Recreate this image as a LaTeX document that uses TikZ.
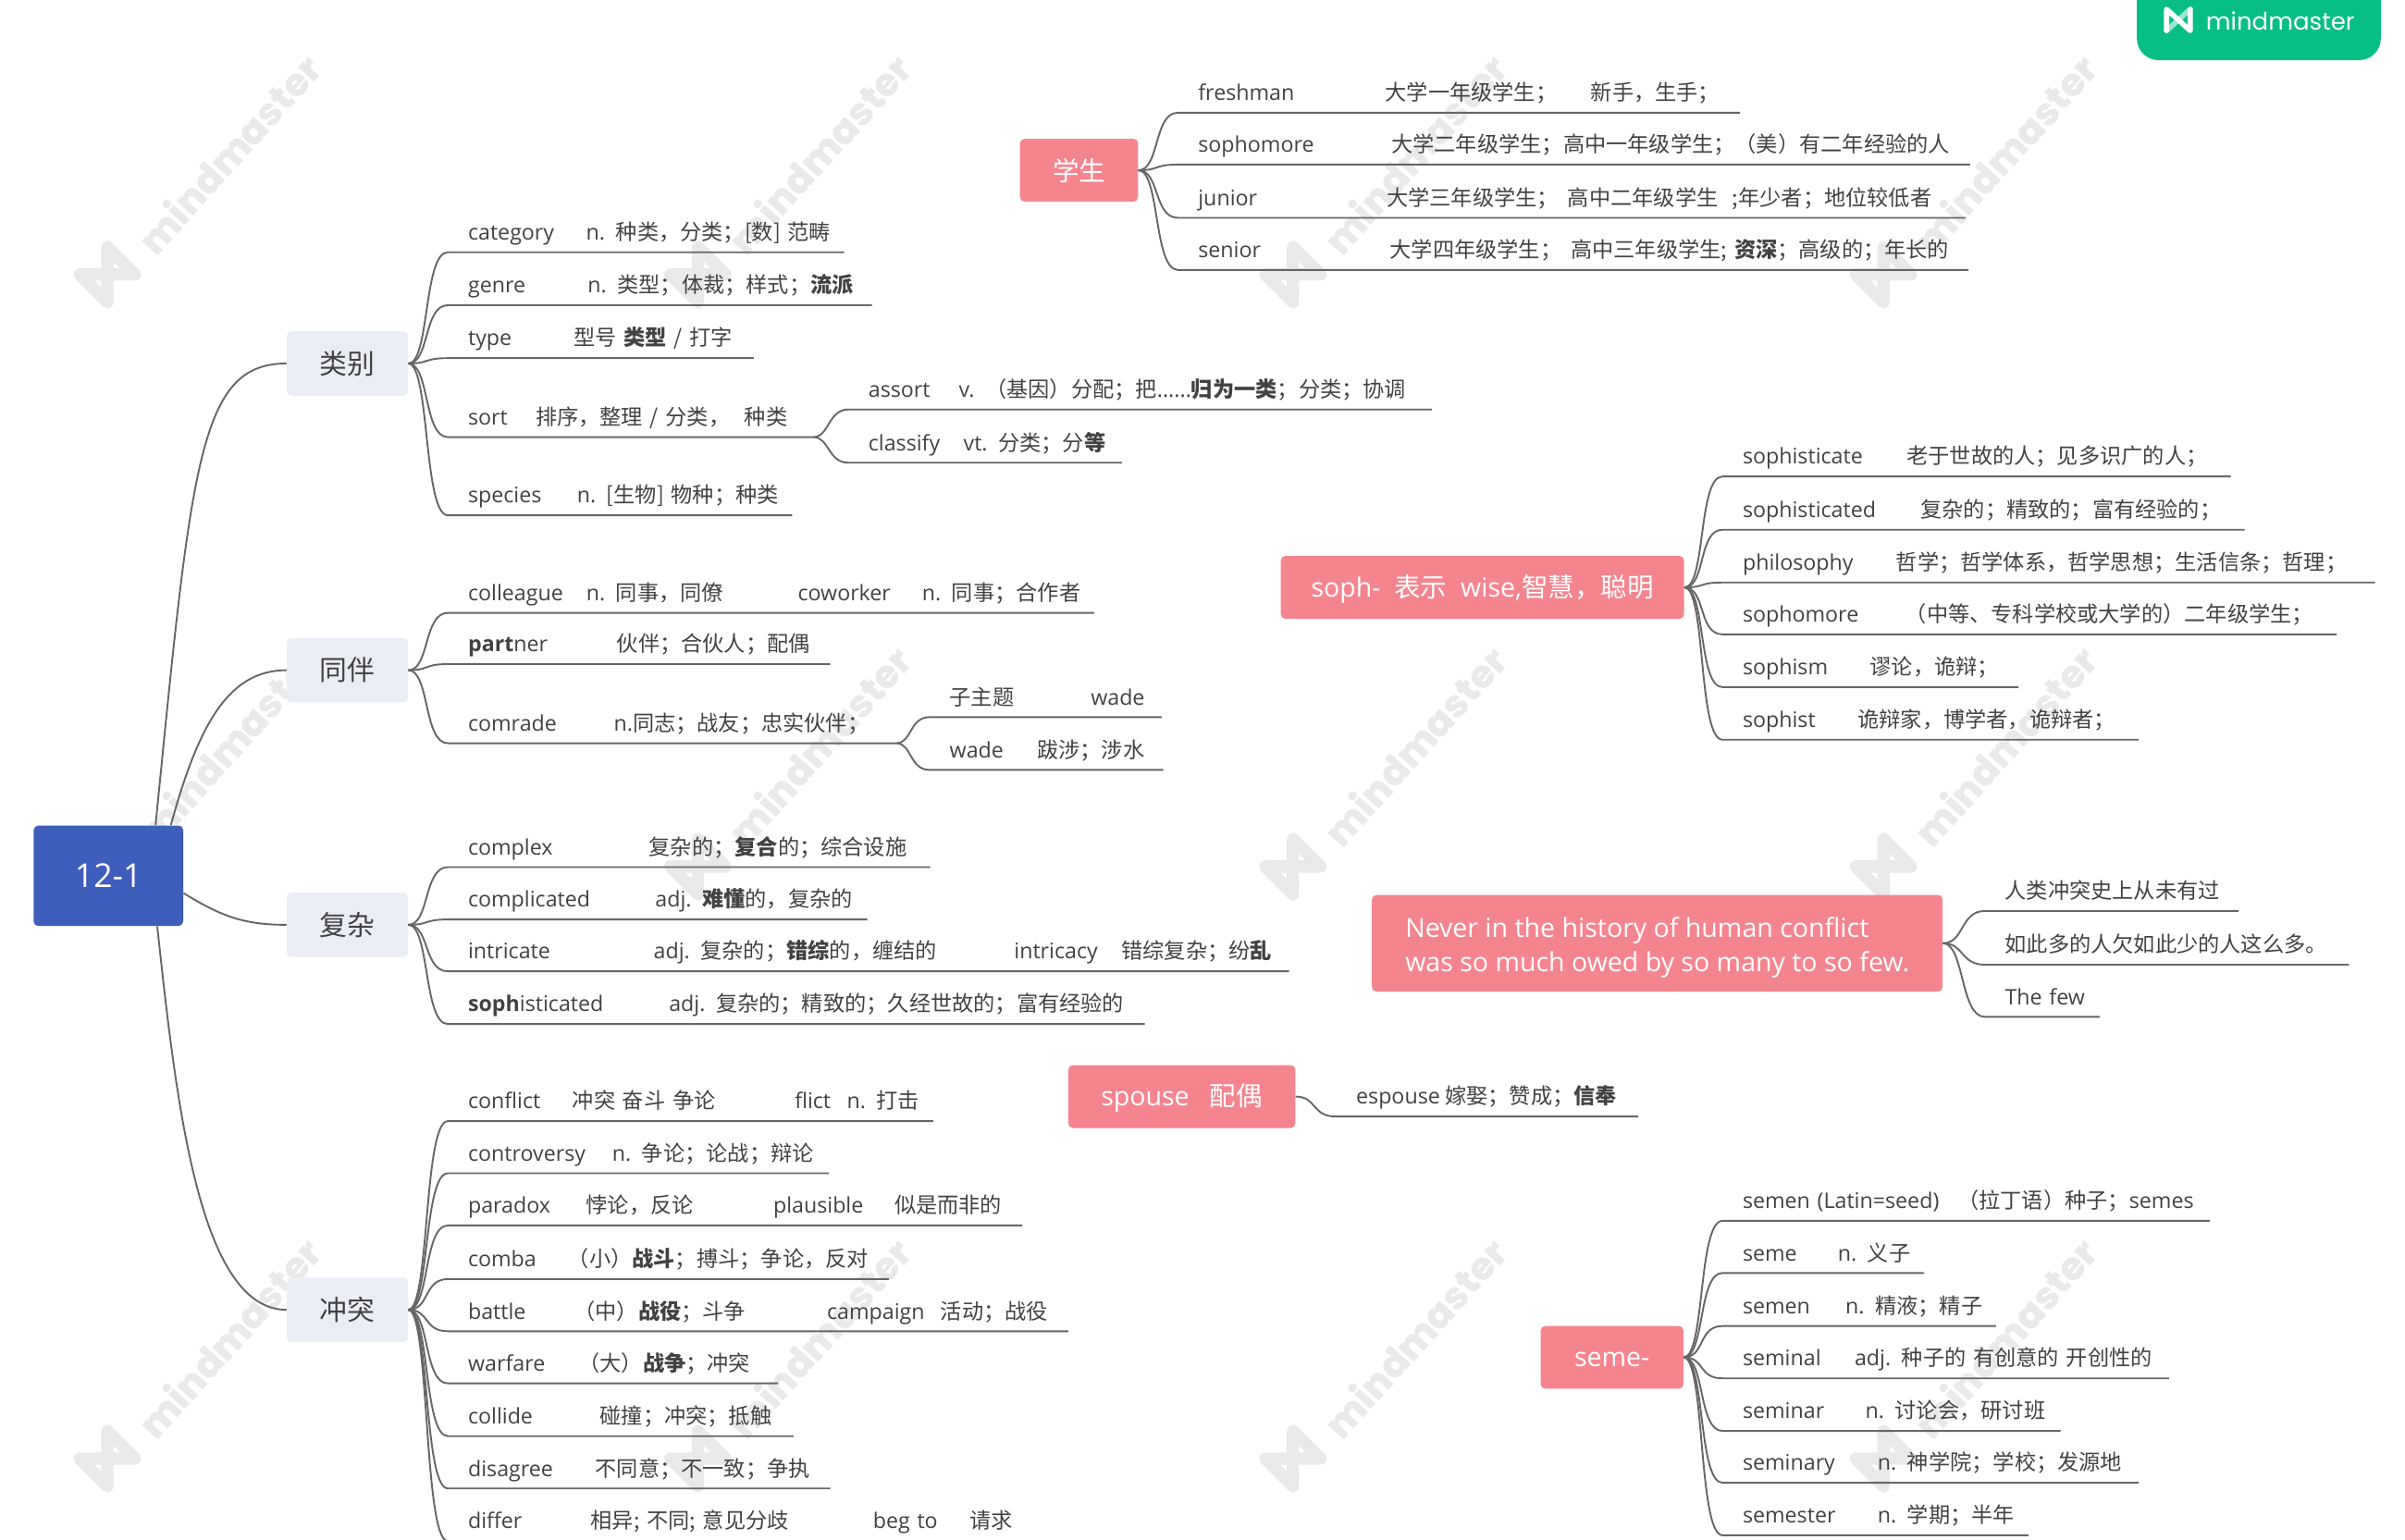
\documentclass[tikz,border=0pt]{standalone}
\usepackage{fontspec}
\setmainfont{Open Sans}
\newfontfamily\cjk[Scale=1.0]{Noto Sans CJK SC}
\newfontfamily\wmfont[BoldFont={Poppins ExtraBold}]{Poppins}
\usetikzlibrary{positioning}

\definecolor{rootblue}{HTML}{3F5DBB}
\definecolor{lbgray}{HTML}{EBEDF5}
\definecolor{topicpink}{HTML}{F4858F}
\definecolor{tagreen}{HTML}{07BF85}
\definecolor{wmgray}{HTML}{E9E9E9}
\definecolor{inkgray}{HTML}{424242}
\definecolor{linegray}{HTML}{666666}

\newcommand{\z}[1]{{\cjk #1}}
\newcommand{\zb}[1]{{\cjk\bfseries #1}}
\newcommand{\col}[2]{\makebox[#1pt][l]{#2}}

\begin{document}
\begin{tikzpicture}
	% Styles
	[
	x=1pt,y=-1pt,
	root/.style={rectangle,fill=rootblue,rounded corners=3pt,inner sep=0pt,text=white,minimum width=97.5pt,minimum height=65.5pt,font=\fontsize{21.5}{26}\selectfont},
	lb/.style={rectangle,fill=lbgray,rounded corners=3pt,inner sep=0pt,text=inkgray,minimum width=79pt,minimum height=42pt,font=\fontsize{18}{22}\selectfont},
	topic/.style={rectangle,fill=topicpink,rounded corners=3pt,inner sep=0pt,text=white,minimum height=41pt,align=left,font=\fontsize{17.2}{22.5}\selectfont},
	latin/.style={text height=13pt,text depth=1pt},
	leaf/.style={anchor=south west,inner sep=0pt,text height=12pt,text depth=7.8pt,text=inkgray,align=left,text width=#1pt,font=\fontsize{14}{16}\selectfont,execute at begin node=\hspace*{13pt}},
	link/.style={draw=linegray,line width=1.15pt,line join=round},
	wm/.style={anchor=base west,rotate=48,inner sep=0pt,text=wmgray,font=\wmfont\bfseries\fontsize{25}{28}\selectfont},
	]

	% Page
	\fill[white] (0,0) rectangle (1568,1004);
	\useasboundingbox (0,0) rectangle (1568,1004);

	% Watermark
	\foreach \wx in {70,455,843,1228}
		\foreach \wy in {179,565,951}
		{
			\draw[wmgray,line width=8pt,line cap=round,line join=round]
				(\wx-18,\wy) -- (\wx+18,\wy) -- (\wx,\wy-18) -- (\wx,\wy+18) -- (\wx-18,\wy);
			\node[wm] (wm-\wx-\wy) at (\wx+32,\wy-11) {mindmaster};
		}

	% Tag
	\node[rectangle,fill=tagreen,rounded corners=14pt,minimum width=159pt,minimum height=59pt,inner sep=0pt,anchor=north west] (tag) at (1393,-20) {};
	\draw[white,opacity=.6,line width=3.4pt,line cap=round] (1412.5,20) -- (1428,6);
	\draw[white,line width=3.4pt,line cap=round,line join=round] (1412.5,20) -- (1412.5,6) -- (1428,20) -- (1428,6);
	\node[anchor=base west,inner sep=0pt,text=white,font=\wmfont\fontsize{15.7}{20}\selectfont] (tagname) at (1438,19.5) {mindmaster};

	% Nodes
	\node at (70.7,571) (root) [root] {12-1};
	\node at (226.5,237) (lei) [lb] {\z{类别}};
	\node at (226.5,437) (ban) [lb] {\z{同伴}};
	\node at (226.5,603) (za) [lb] {\z{复杂}};
	\node at (226.5,854) (chong) [lb] {\z{冲突}};
	\node at (703.5,111) (xue) [topic,minimum width=77pt] {\z{学生}};
	\node at (966.5,383) (soph) [topic,latin,minimum width=263pt] {soph-\ \ \z{表示}\ \ wise,\z{智慧，聪明}};
	\node at (1080.5,615) (never) [topic,minimum width=372pt,minimum height=63pt] {\rule{0pt}{19pt}Never in the history of human conflict\\was so much owed by so many to so few.};
	\node at (770.5,715) (spouse) [topic,latin,minimum width=148pt] {spouse\ \ \ \z{配偶}};
	\node at (1051,885) (seme) [topic,latin,minimum width=93pt] {seme-};

	% Leaves of lei
	\node at (292,164.5) (cat) [leaf=258] {\col{77}{category}n. \z{种类，分类；[数] 范畴}};
	\node at (292,199) (gen) [leaf=276] {\col{78}{genre}n. \z{类型；体裁；样式；}\zb{流派}};
	\node at (292,233.5) (typ) [leaf=199] {\col{69}{type}\z{型号 \zb{类型} / 打字}};
	\node at (292,285) (srt) [leaf=238] {\col{44}{sort}\z{排序，整理 /\ 分类，\ \ 种类}};
	\node at (292,336) (spc) [leaf=224] {\col{71}{species}n. \z{[生物] 物种；种类}};
	\node at (553,267) (ast) [leaf=380] {\col{59}{assort}v. \z{（基因）分配；把}......\zb{归为一类}\z{；分类；协调}};
	\node at (553,301.7) (cls) [leaf=178] {\col{62}{classify}vt. \z{分类；分}\zb{等}};

	% Leaves of ban
	\node at (292,399.6) (col) [leaf=421] {\col{77}{colleague}\col{138}{n. \z{同事，同僚}}\col{81}{coworker}n. \z{同事；合作者}};
	\node at (292,433) (par) [leaf=249] {\col{97}{\textbf{part}ner}\z{伙伴；合伙人；配偶}};
	\node at (292,484.6) (com) [leaf=292] {\col{95}{comrade}n.\z{同志；战友；忠实伙伴；}};
	\node at (606,467.6) (zi) [leaf=151] {\col{92}{\z{子主题}}wade};
	\node at (606,502) (wad) [leaf=152] {\col{57}{wade}\z{跋涉；涉水}};

	% Leaves of za
	\node at (292,565.4) (cpx) [leaf=314] {\col{118}{complex}\z{复杂的；\zb{复合}的；综合设施}};
	\node at (292,599.5) (cpl) [leaf=273] {\col{122}{complicated}adj. \zb{难懂}\z{的，复杂的}};
	\node at (292,633.3) (itr) [leaf=548] {\col{121}{intricate}\col{235}{adj. \z{复杂的；\zb{错综}的，缠结的}}\col{70}{intricacy}\z{错综复杂；纷\zb{乱}}};
	\node at (292,667.7) (sph) [leaf=454] {\col{131}{\textbf{soph}isticated}adj. \z{复杂的；精致的；久经世故的；富有经验的}};

	% Leaves of chong
	\node at (292,731) (cfl) [leaf=316] {\col{68}{conflict}\col{145}{\z{冲突 奋斗 争论}}\col{34}{flict}n. \z{打击}};
	\node at (292,765) (ctr) [leaf=248] {\col{94}{controversy}n. \z{争论；论战；辩论}};
	\node at (292,799) (pdx) [leaf=374] {\col{77}{paradox}\col{122}{\z{悖论，反论}}\col{79}{plausible}\z{似是而非的}};
	\node at (292,834) (cmb) [leaf=287] {\col{65}{comba}\z{（小）\zb{战斗}；搏斗；争论，反对}};
	\node at (292,868) (btl) [leaf=404] {\col{69}{battle}\col{165}{\z{（中）\zb{战役}；斗争}}\col{74}{campaign}\z{活动；战役}};
	\node at (292,902) (war) [leaf=215] {\col{72}{warfare}\z{（大）\zb{战争}；冲突}};
	\node at (292,936.4) (cld) [leaf=225] {\col{86}{collide}\z{碰撞；冲突；抵触}};
	\node at (292,970.5) (dis) [leaf=249] {\col{83}{disagree}\z{不同意；不一致；争执}};
	\node at (292,1004.8) (dif) [leaf=388] {\col{80}{differ}\col{184}{\z{相异; 不同; 意见分歧}}\col{63}{beg to}\z{请求}};

	% Leaves of xue
	\node at (768,73.5) (fre) [leaf=366] {\col{122}{freshman}\col{134}{\z{大学一年级学生；}}\z{新手，生手；}};
	\node at (768,107.3) (sop) [leaf=516] {\col{126}{sophomore}\z{大学二年级学生；高中一年级学生；（美）有二年经验的人}};
	\node at (768,142) (jun) [leaf=513] {\col{123}{junior}\col{118}{\z{大学三年级学生；}}\z{高中二年级学生\ \ ;年少者；地位较低者}};
	\node at (768,176) (sen) [leaf=515] {\col{125}{senior}\col{118}{\z{大学四年级学生；}}\z{高中三年级学生; \zb{资深}；高级的；年长的}};

	% Leaves of soph
	\node at (1123,310.7) (sp1) [leaf=331] {\col{107}{sophisticate}\z{老于世故的人；见多识广的人；}};
	\node at (1123,345.4) (sp2) [leaf=340] {\col{116}{sophisticated}\z{复杂的；精致的；富有经验的；}};
	\node at (1123,379.8) (sp3) [leaf=425] {\col{100}{philosophy}\z{哲学；哲学体系，哲学思想；生活信条；哲理；}};
	\node at (1123,413.6) (sp4) [leaf=400] {\col{106}{sophomore}\z{（中等、专科学校或大学的）二年级学生；}};
	\node at (1123,448) (sp5) [leaf=192.6] {\col{83}{sophism}\z{谬论，诡辩；}};
	\node at (1123,482.3) (sp6) [leaf=271] {\col{75}{sophist}\z{诡辩家，博学者，诡辩者；}};

	% Leaves of never
	\node at (1294,594) (nv1) [leaf=165] {\z{人类冲突史上从未有过}};
	\node at (1294,629) (nv2) [leaf=237] {\z{如此多的人欠如此少的人这么多。}};
	\node at (1294,663) (nv3) [leaf=74.5] {The few};

	% Leaves of spouse
	\node at (871,728) (esp) [leaf=196.6] {\col{58}{espouse}\z{嫁娶；赞成；\zb{信奉}}};

	% Leaves of seme
	\node at (1123,796) (se1) [leaf=317.4] {\col{140}{semen (Latin=seed)}\z{（拉丁语）种子；}semes};
	\node at (1123,830) (se2) [leaf=131] {\col{62}{seme}n. \z{义子}};
	\node at (1123,864.6) (se3) [leaf=178] {\col{67}{semen}n. \z{精液；精子}};
	\node at (1123,898.7) (se4) [leaf=290.7] {\col{73}{seminal}adj. \z{种子的 有创意的 开创性的}};
	\node at (1123,933) (se5) [leaf=220] {\col{80}{seminar}n. \z{讨论会，研讨班}};
	\node at (1123,966.8) (se6) [leaf=271] {\col{88}{seminary}n. \z{神学院；学校；发源地}};
	\node at (1123,1001) (se7) [leaf=199] {\col{88}{semester}n. \z{学期；半年}};

	% Links from root
	\draw[link] (root.47) .. controls (125,300) and (130,237) .. (lei.west);
	\draw[link] (root.39) .. controls (130,470) and (150,437) .. (ban.west);
	\draw[link] (root.-13) .. controls (145,598) and (160,603) .. (za.west);
	\draw[link] (root.-46) .. controls (115,720) and (130,854) .. (chong.west);

	% Links to leaves
	\foreach \parent/\kids in {lei/{cat,gen,typ,srt,spc},ban/{col,par,com},za/{cpx,cpl,itr,sph},chong/{cfl,ctr,pdx,cmb,btl,war,cld,dis,dif},xue/{fre,sop,jun,sen},soph/{sp1,sp2,sp3,sp4,sp5,sp6},never/{nv1,nv2,nv3},spouse/{esp},seme/{se1,se2,se3,se4,se5,se6,se7}}
		\foreach \kid in \kids
			\draw[link] (\parent.east) .. controls +(14,0) and +(-16,0) .. (\kid.south west) -- (\kid.south east);

	% Second level
	\foreach \parent/\kid in {srt/ast,srt/cls,com/zi,com/wad}
		\draw[link] (\parent.south east) .. controls +(10,0) and +(-13,0) .. (\kid.south west) -- (\kid.south east);
\end{tikzpicture}
\end{document}
